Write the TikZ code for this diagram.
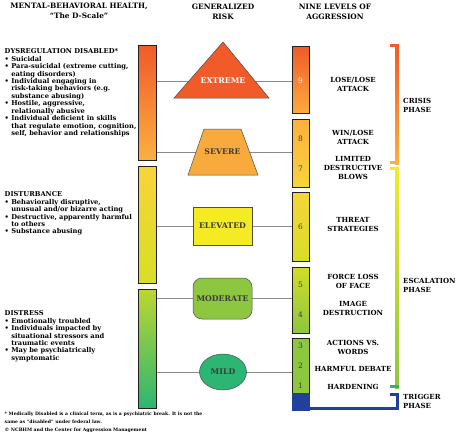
\documentclass[tikz,border=0pt]{standalone}
\usepackage{fontspec}
\setmainfont{DejaVu Serif}
\usetikzlibrary{shapes.geometric,backgrounds}

\definecolor{redorange}{HTML}{F15A29}
\definecolor{lightorange}{HTML}{FBB040}
\definecolor{sevorange}{HTML}{F9AA3C}
\definecolor{goldyellow}{HTML}{F8D43A}
\definecolor{brightyellow}{HTML}{F3EA25}
\definecolor{elevyellow}{HTML}{F5EB22}
\definecolor{limeyellow}{HTML}{D6DF26}
\definecolor{limegreen}{HTML}{BCD631}
\definecolor{leafgreen}{HTML}{8DC63F}
\definecolor{teal}{HTML}{2BB673}
\definecolor{navy}{HTML}{21409A}
\definecolor{ink}{HTML}{231F20}
\definecolor{linegray}{HTML}{8A8A8A}
\definecolor{labelgray}{HTML}{3C3C3C}

\newcommand{\itemdot}{\textbullet\ }
\newcommand{\itemgap}{\hphantom{\textbullet\ }}

\begin{document}
\begin{tikzpicture}[x=1pt,y=-1pt,
  bar/.style={draw=ink,line width=0.8pt,inner sep=0pt,anchor=north west},
  riskline/.style={draw=linegray,line width=1pt},
  riskshape/.style={draw=ink!80,line width=0.5pt},
  risklabel/.style={font=\bfseries\fontsize{7.8}{9}\selectfont,text=labelgray},
  colhead/.style={font=\bfseries\fontsize{7.4}{10}\selectfont,align=center},
  desc/.style={font=\bfseries\fontsize{6.7}{7.45}\selectfont,align=left,anchor=north west,inner sep=0pt},
  levelname/.style={font=\bfseries\fontsize{7}{9}\selectfont,align=center,inner sep=0pt},
  levelnum/.style={font=\fontsize{7.5}{8}\selectfont,text=labelgray,inner sep=0pt},
  phase/.style={font=\bfseries\fontsize{7}{9}\selectfont,align=left,anchor=west,inner sep=0pt}]
\useasboundingbox (0,0) rectangle (467,437);

% column headings
\node[colhead] (dscale) at (79,11) {MENTAL-BEHAVIORAL HEALTH,\\“The D-Scale”};
\node[colhead] (risk) at (223,12) {GENERALIZED\\RISK};
\node[colhead] (nine) at (335,12) {NINE LEVELS OF\\AGGRESSION};

% left scale
\node[bar,minimum width=18pt,minimum height=115pt,top color=redorange,bottom color=lightorange] (dys) at (138,45) {};
\node[bar,minimum width=18pt,minimum height=117pt,top color=goldyellow,middle color=brightyellow,bottom color=limeyellow] (dist) at (138,166) {};
\node[bar,minimum width=18pt,minimum height=119pt,top color=limegreen,middle color=leafgreen,bottom color=teal] (stress) at (138,289) {};

% right scale
\node[bar,minimum width=17pt,minimum height=67pt,top color=redorange,bottom color=lightorange!95!redorange] (lvl9) at (292,46) {};
\node[bar,minimum width=17pt,minimum height=68pt,top color=lightorange,bottom color=goldyellow] (lvl87) at (292,119) {};
\node[bar,minimum width=17pt,minimum height=69pt,top color=goldyellow,middle color=brightyellow,bottom color=limeyellow] (lvl6) at (292,192) {};
\node[bar,minimum width=17pt,minimum height=66pt,top color=limeyellow!80!limegreen,bottom color=leafgreen] (lvl54) at (292,267) {};
\node[bar,minimum width=17pt,minimum height=55pt,fill=leafgreen] (lvl321) at (292,338) {};
\node[bar,draw=navy,minimum width=17pt,minimum height=17pt,fill=navy] (trig) at (292,393) {};

\node[levelnum,text=white] (n9) at (300.5,81) {9};
\node[levelnum] (n8) at (300.5,139) {8};
\node[levelnum] (n7) at (300.5,169) {7};
\node[levelnum] (n6) at (300.5,227) {6};
\node[levelnum] (n5) at (300.5,285) {5};
\node[levelnum] (n4) at (300.5,315) {4};
\node[levelnum] (n3) at (300.5,346) {3};
\node[levelnum] (n2) at (300.5,366) {2};
\node[levelnum] (n1) at (300.5,386) {1};

% risk shapes
\filldraw[riskshape,fill=redorange] (223,42) -- (269,98) -- (174,98) -- cycle;
\node[risklabel,text=white] (extreme) at (223,81) {EXTREME};
\filldraw[riskshape,fill=sevorange] (204,129) -- (241,129) -- (258,175) -- (188,175) -- cycle;
\node[risklabel] (severe) at (222.5,152) {SEVERE};
\node[riskshape,risklabel,fill=elevyellow,minimum width=59pt,minimum height=38pt] (elevated) at (222.5,226) {ELEVATED};
\node[riskshape,risklabel,fill=leafgreen,rounded corners=9pt,inner sep=1pt,minimum width=59pt,minimum height=41pt] (moderate) at (222.5,298.5) {MODERATE};
\node[riskshape,risklabel,fill=teal,ellipse,inner sep=0pt,minimum width=47pt,minimum height=36pt] (mild) at (223,372) {MILD};

\begin{scope}[on background layer]
\draw[riskline] (dys.east |- extreme) -- (lvl9.west |- extreme);
\draw[riskline] (dys.east |- severe) -- (lvl87.west |- severe);
\draw[riskline] (dist.east |- elevated) -- (lvl6.west |- elevated);
\draw[riskline] (stress.east |- moderate) -- (lvl54.west |- moderate);
\draw[riskline] (stress.east |- mild) -- (lvl321.west |- mild);
\end{scope}

% left descriptions
\node[desc] (dysreg) at (4.5,48.5) {DYSREGULATION DISABLED*\\
\itemdot Suicidal\\
\itemdot Para-suicidal (extreme cutting,\\
\itemgap eating disorders)\\
\itemdot Individual engaging in\\
\itemgap risk-taking behaviors (e.g.\\
\itemgap substance abusing)\\
\itemdot Hostile, aggressive,\\
\itemgap relationally abusive\\
\itemdot Individual deficient in skills\\
\itemgap that regulate emotion, cognition,\\
\itemgap self, behavior and relationships};
\node[desc] (disturb) at (4.5,191.5) {DISTURBANCE\\
\itemdot Behaviorally disruptive,\\
\itemgap unusual and/or bizarre acting\\
\itemdot Destructive, apparently harmful\\
\itemgap to others\\
\itemdot Substance abusing};
\node[desc] (distress) at (4.5,310.5) {DISTRESS\\
\itemdot Emotionally troubled\\
\itemdot Individuals impacted by\\
\itemgap situational stressors and\\
\itemgap traumatic events\\
\itemdot May be psychiatrically\\
\itemgap symptomatic};

% level names
\node[levelname] (l9) at (353,84.5) {LOSE/LOSE\\ATTACK};
\node[levelname] (l8) at (353,137.5) {WIN/LOSE\\ATTACK};
\node[levelname] (l7) at (353,168) {LIMITED\\DESTRUCTIVE\\BLOWS};
\node[levelname] (l6) at (353,224.5) {THREAT\\STRATEGIES};
\node[levelname] (l5) at (353,281.5) {FORCE LOSS\\OF FACE};
\node[levelname] (l4) at (353,308) {IMAGE\\DESTRUCTION};
\node[levelname] (l3) at (353,347.5) {ACTIONS VS.\\WORDS};
\node[levelname] (l2) at (353,369) {HARMFUL DEBATE};
\node[levelname] (l1) at (353,387) {HARDENING};

% phase brackets
\shade[top color=redorange,bottom color=lightorange] (395,44) rectangle (399,164);
\fill[redorange] (390,44) rectangle (399,47);
\fill[lightorange] (390,161) rectangle (399,164);
\shade[top color=brightyellow,middle color=limeyellow,bottom color=leafgreen] (395,167) rectangle (399,388);
\fill[brightyellow!90!goldyellow] (390,167) rectangle (399,170);
\fill[teal] (390,385) rectangle (399,388);
\coordinate (trigend) at (390,394.5);
\draw[navy,line width=3pt] (trig.east |- 0,408.5) -| (397,394.5) -- (trigend);

\node[phase] (crisis) at (403,105.5) {CRISIS\\PHASE};
\node[phase] (escal) at (403,285.5) {ESCALATION\\PHASE};
\node[phase] (trigger) at (403,401.5) {TRIGGER\\PHASE};

% footnote
\node[desc,font=\bfseries\fontsize{4.6}{8.3}\selectfont] (note) at (4.5,411.5) {* Medically Disabled is a clinical term, as is a psychiatric break. It is not the\\
same as “disabled” under federal law.\\
© NCBHM and the Center for Aggression Management};
\end{tikzpicture}
\end{document}
